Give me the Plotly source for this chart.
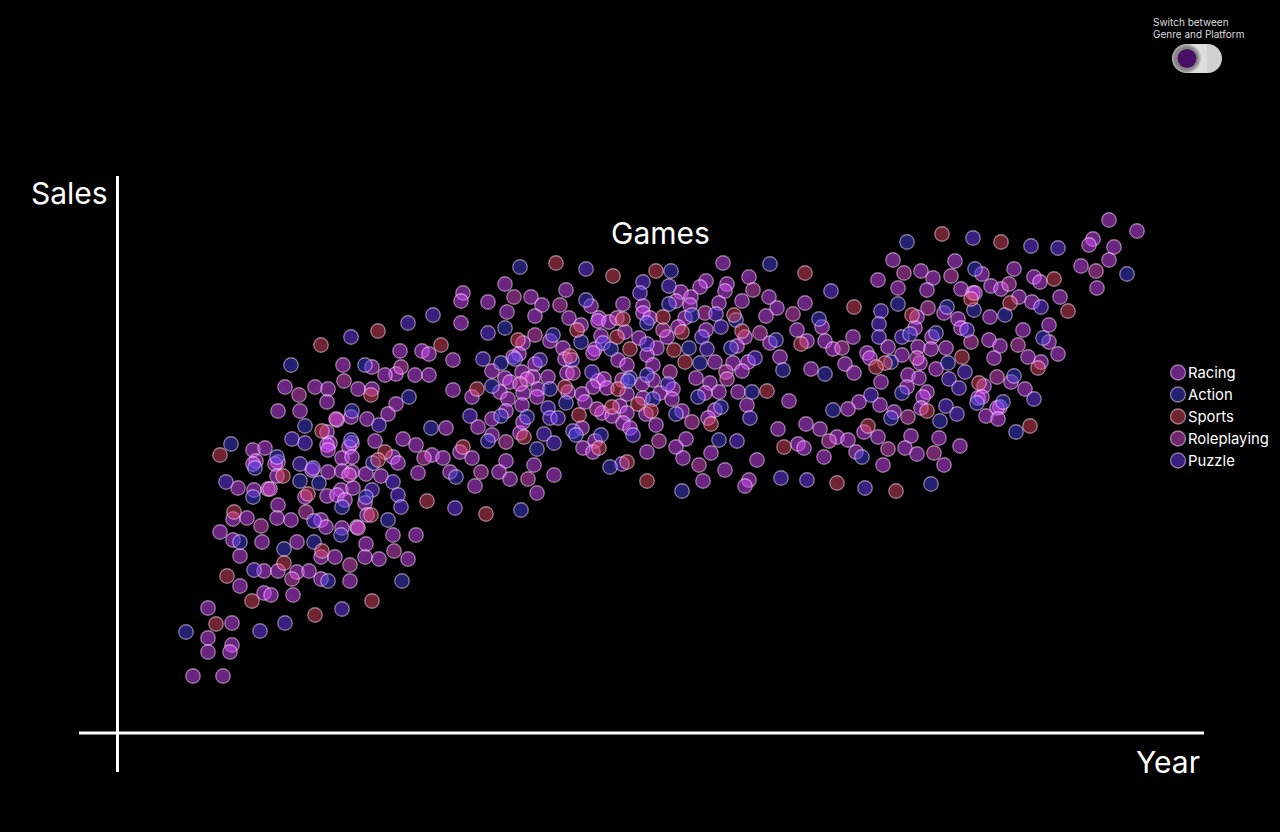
import plotly.graph_objects as go

racing = [(253,350),(265,352),(256,339),(253,336),(278,338),(275,336),(277,324),(327,368),(330,357),(327,355),(328,350),(352,357),(349,353),(375,359),(403,361),(416,355),(342,342),(352,343),(393,343),(398,337),(432,345),(328,328),(342,329),(352,328),(366,326),(381,324),(418,327),(312,330),(238,312),(254,310),(268,311),(341,310),(353,312),(365,297),(278,295),(305,303),(327,304),(337,305),(345,300),(233,281),(247,282),(277,282),(291,280),(321,280),(326,273),(367,285),(220,268),(233,260),(262,258),(342,272),(357,273),(393,265),(416,265),(297,258),(321,243),(335,243),(366,256),(240,244),(365,243),(379,241),(408,241),(264,229),(278,229),(297,228),(309,229),(321,221),(350,219),(240,214),(264,207),(271,205),(293,205),(208,192),(232,177),(208,162),(232,155),(230,148),(208,148),(193,124),(223,124),
(400,449),(422,449),(429,446),(453,440),(343,435),(372,433),(396,426),(385,425),(415,425),(429,425),(315,413),(328,411),(285,413),(358,411),(372,411),(453,410),(396,396),(327,398),(278,389),(300,389),(388,386),(351,383),(367,381),(446,372),(337,380),
(505,516),(463,507),(461,499),(488,498),(531,503),(542,495),(566,510),(591,494),(623,496),(507,488),(535,484),(569,482),(599,482),(598,479),(609,478),(581,475),(461,477),(625,468),(601,464),(595,451),(593,447),(550,459),(523,457),(563,452),(519,446),(513,443),(535,436),(565,441),(567,427),(618,440),(627,435),(492,429),(522,428),(548,423),(505,422),(510,418),(533,423),(598,419),(604,421),(593,413),(607,412),(538,411),
(472,403),(500,408),(523,407),(537,403),(568,408),(582,406),(585,398),(627,406),(508,401),(506,389),(492,381),(522,395),(602,387),(612,384),(620,394),(627,387),(623,377),(630,372),(478,373),(492,365),(520,367),(523,378),(582,372),(595,359),(583,352),(593,348),(460,348),(443,342),(472,342),(506,339),(534,335),(450,328),(499,328),(510,321),(554,325),(475,314),(537,307),
(723,537),(706,519),(700,513),(727,516),(725,509),(681,508),(769,503),(691,503),(676,499),(643,494),(643,487),(690,495),(719,497),(742,499),(777,492),(805,497),(650,482),(685,482),(766,484),(678,473),(667,463),(706,470),(745,463),(797,470),(822,473),(639,462),(657,452),(770,457),(807,459),(647,445),(653,435),(715,438),(733,437),(748,438),(780,443),(742,429),(811,431),(749,523),(737,454),(696,422),(653,420),(710,417),(642,416),
(660,407),(673,411),(672,401),(643,402),(646,386),(705,407),(719,408),(738,408),(789,399),(747,395),(682,389),(715,390),(708,382),(656,375),(778,371),(806,376),(820,371),(686,361),(676,353),(647,348),(798,356),(804,352),(711,347),(683,342),(757,340),(725,330),(703,319),(749,320),(745,314),
(893,540),(955,539),(921,529),(933,522),(878,520),(898,512),(927,510),(961,511),(973,507),(917,483),(944,487),(958,481),(961,472),(915,472),(932,463),(853,463),(825,459),(833,451),(888,453),(918,453),(931,451),(946,452),(867,447),(870,442),(902,445),(920,437),(845,436),(936,431),(854,427),
(881,418),(908,425),(919,422),(907,413),(927,408),(923,403),(859,398),(848,391),(880,395),(978,402),(921,392),(894,388),(864,368),(837,363),(848,360),(878,363),(911,364),(939,362),(960,354),(905,352),(917,346),(856,348),(824,343),(944,335),(883,335),
(1109,580),(1137,569),(1093,561),(1089,555),(1114,553),(1109,540),(1081,534),(1097,512),(1014,531),(982,526),(1034,523),(1040,518),(991,514),(1001,511),(1019,503),(1032,498),(1060,503),(975,507),(990,483),(1049,475),(1023,470),(1049,458),(989,460),(1000,454),(1058,446),(994,442),(1028,443),(1041,438),(1011,418),(984,414),(1025,411),(982,403),(1000,393),(997,392),(986,384),(998,381)]

action = [(231,356),(255,332),(277,343),(305,374),(351,360),(373,337),(300,319),(319,317),(253,303),(366,303),(342,293),(388,280),(240,258),(341,265),(284,251),(314,258),(328,219),(402,219),(186,168),
(291,435),(365,435),(409,403),(352,389),(431,372),
(520,533),(586,500),(505,472),(553,465),(581,458),(611,451),(501,437),(515,441),(492,414),(550,411),(630,422),
(566,397),(527,383),(488,359),(537,351),(456,323),(521,290),(576,365),(601,365),(610,333),(501,384),
(671,529),(770,536),(669,496),(647,477),(692,485),(736,480),(819,481),(689,452),(731,452),(776,460),(700,437),(783,430),(647,425),(628,419),
(653,401),(698,403),(752,408),(676,386),(721,393),(719,360),(682,309),
(907,558),(975,531),(898,496),(947,493),(974,490),(936,467),(910,466),(891,438),(948,437),
(825,426),(902,407),(833,390),(977,397),(891,382),(940,379),(862,343),(931,316),
(1127,526),(1005,485),(1043,462),(1014,424),(1003,398),(1016,368)]

sports = [(220,345),(283,324),(322,369),(385,348),(378,340),(234,288),(308,306),(371,285),(322,249),(284,237),(227,224),(252,199),(372,199),(315,185),(216,176),(427,299),
(378,469),(321,455),(441,455),(371,405),
(556,537),(613,524),(518,460),(577,470),(623,481),(617,463),(570,444),(477,411),
(565,413),(618,411),(612,393),(579,385),(524,363),(463,353),(599,352),(486,286),(627,338),
(656,529),(663,483),(734,485),(682,468),(742,469),(630,451),(674,450),(801,456),(685,438),(638,396),(651,389),(767,409),(711,376),(784,353),(647,319),(805,527),
(942,566),(854,493),(912,485),(971,501),(962,443),(885,437),(876,433),(979,417),(927,389),(868,374),(837,317),(896,309),
(1001,558),(1054,521),(1010,497),(1068,489),(1038,432),(1030,374)]

roleplaying = [(349,325),(270,311),(358,272),(261,274),(306,288),(292,221),(394,249),(350,235),(424,342),(336,381),
(344,419),(401,433),(299,405),
(514,503),(560,495),(617,482),(535,465),(573,427),(527,421),(520,416),(622,420),
(597,391),(506,358),(481,328),(528,321),
(753,510),(705,487),(663,470),(760,467),(793,486),(670,428),(726,428),(727,421),(692,378),(659,359),(699,335),
(904,527),(951,524),(928,492),(971,458),(842,452),(917,442),
(908,383),(829,359),(888,351),(934,347),
(1096,529),(1009,516),(1018,455),(997,423)]

puzzle = [(292,361),(305,357),(379,375),(393,318),(226,318),(300,336),(313,332),(372,310),(398,305),(401,293),(314,279),(254,230),(342,191),(260,169),(285,177),
(433,485),(408,477),(351,463),
(586,531),(488,467),(483,441),(540,440),(603,457),(572,440),(592,428),
(470,384),(548,392),(550,382),(558,382),(544,366),(554,357),(573,369),(455,292),(622,336),
(643,518),(669,514),(640,507),(716,486),(721,473),(702,463),(647,456),(707,451),(755,442),(668,416),
(750,382),(737,359),(781,322),(807,320),(633,365),
(973,562),(831,509),(881,489),(879,476),(902,463),(879,463),(967,470),
(965,428),(949,421),(959,412),(871,405),(946,394),(957,386),(865,312),
(1031,554),(1058,552),(1041,493),(1034,401)]

series_names = ["Racing", "Action", "Sports", "Roleplaying", "Puzzle"]
series_values = [racing, action, sports, roleplaying, puzzle]
fills = ["rgba(212,74,255,0.5)", "rgba(68,64,222,0.5)", "rgba(224,72,100,0.5)", "rgba(226,80,214,0.5)", "rgba(114,62,255,0.5)"]
draw_order = [0, 3, 4, 1, 2]
OUTLINE = "rgba(255,225,255,0.5)"

fig = go.Figure()
for i in draw_order:
    pts = series_values[i]
    fig.add_trace(go.Scatter(x=[p[0] for p in pts], y=[p[1] for p in pts], mode="markers",
                             name=series_names[i], showlegend=False,
                             marker=dict(size=14.5, color=fills[i], line=dict(color=OUTLINE, width=1.3))))

FONT = "Inter"
def label(x, y, text, size, anchor="left"):
    fig.add_annotation(x=x, y=y, text=text, showarrow=False, xanchor=anchor, yanchor="middle",
                       font=dict(family=FONT, size=size, color="#ffffff" if size > 12 else "#dddddd"))

def disc(cx, cy, r, color, line=None):
    fig.add_shape(type="circle", x0=cx-r, x1=cx+r, y0=cy-r, y1=cy+r, fillcolor=color,
                  line=dict(color=line or color, width=1.3 if line else 0))

# axes
AX = dict(type="line", line=dict(color="#ffffff", width=3))
fig.add_shape(x0=117.5, x1=117.5, y0=28, y1=624, **AX)
fig.add_shape(x0=79, x1=1204, y0=67, y1=67, **AX)

label(69, 607, "Sales", 30, "center")
label(1168, 38, "Year", 30, "center")
label(660, 567, "Games", 30, "center")

# legend
for i, name in enumerate(series_names):
    yy = 427.5 - 22*i
    disc(1178, yy, 7.5, fills[i], OUTLINE)
    label(1186, yy - 0.5, name, 14.8)

# toggle
label(1151, 778, "Switch between", 10)
label(1151, 766, "Genre and Platform", 10)
disc(1207.5, 741.5, 14.5, "#d0d0d0")
fig.add_shape(type="rect", x0=1187, x1=1207, y0=727, y1=756, fillcolor="#dedede", line=dict(width=0))
disc(1186.5, 741.5, 14.5, "#bdbdbd")
disc(1186, 741.5, 13.5, "#9c9c9c")
disc(1186, 741.5, 12, "#868686")
disc(1187, 741.5, 9.5, "#491065")

fig.update_layout(width=1280, height=832, margin=dict(l=0, r=0, t=0, b=0),
                  paper_bgcolor="#000000", plot_bgcolor="#000000", showlegend=False,
                  xaxis=dict(range=[0, 1280], visible=False, fixedrange=True),
                  yaxis=dict(range=[-32, 800], visible=False, fixedrange=True))
fig.write_html("out.html", config={"displayModeBar": False},
               post_script="document.body.style.margin='0';document.body.style.background='#000';")
